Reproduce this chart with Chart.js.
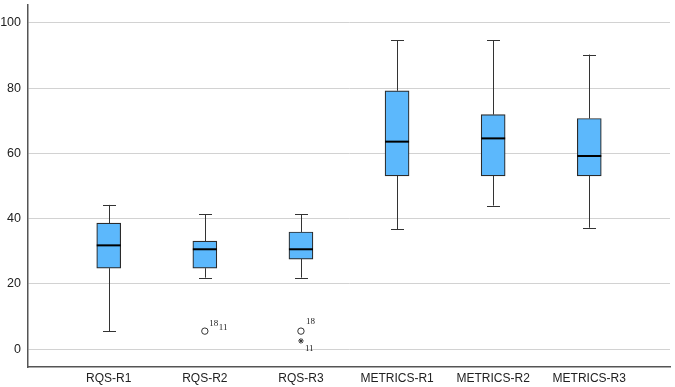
<!DOCTYPE html>
<html>
<head>
<meta charset="utf-8">
<script src="https://cdn.jsdelivr.net/npm/chart.js@4.4.1/dist/chart.umd.min.js"></script>
<style>
  html, body { margin: 0; padding: 0; background: #fff; }
  canvas { display: block; }
</style>
</head>
<body>
<canvas id="boxChart" width="675" height="387"></canvas>
<script>
// box plot values
const categories = ['RQS-R1', 'RQS-R2', 'RQS-R3', 'METRICS-R1', 'METRICS-R2', 'METRICS-R3'];
const whiskerLow = [5.4, 21.9, 21.9, 36.7, 44.0, 37.2];
const q1 = [24.8, 24.8, 27.6, 53.1, 53.1, 53.1];
const median = [31.8, 30.6, 30.6, 63.6, 64.6, 59.2];
const q3 = [38.6, 33.1, 35.9, 79.2, 71.9, 70.7];
const whiskerHigh = [44.2, 41.4, 41.4, 94.7, 94.7, 90.3];

// outliers (category index, value, marker, case ids)
const outlierCat = [1, 2, 2];
const outlierVal = [5.5, 5.5, 2.5];
const outlierShape = ['circle', 'circle', 'star'];
const outlierIds = [['18', '11'], ['18'], ['11']];

const yTicks = [0, 20, 40, 60, 80, 100];

// where the case-id text sits next to each marker (px)
const idOffsets = [[[4.5, -7.5], [14, -3.8]], [[5, -9]], [[4, 8]]];

const boxPlotExtras = {
  id: 'boxPlotExtras',
  beforeDatasetsDraw(chart) {
    const { ctx, scales: { x, y } } = chart;
    ctx.save();
    ctx.strokeStyle = '#333';
    ctx.lineWidth = 1;
    categories.forEach((c, i) => {
      const px = Math.round(x.getPixelForValue(i)) + 0.5;
      const lo = y.getPixelForValue(whiskerLow[i]);
      const hi = y.getPixelForValue(whiskerHigh[i]);
      ctx.beginPath();
      ctx.moveTo(px, lo);
      ctx.lineTo(px, y.getPixelForValue(q1[i]));
      ctx.moveTo(px, y.getPixelForValue(q3[i]));
      ctx.lineTo(px, hi);
      // caps
      ctx.moveTo(px - 6.5, Math.round(lo) + 0.5);
      ctx.lineTo(px + 6.5, Math.round(lo) + 0.5);
      ctx.moveTo(px - 6.5, Math.round(hi) + 0.5);
      ctx.lineTo(px + 6.5, Math.round(hi) + 0.5);
      ctx.stroke();
    });
    ctx.restore();
  },
  afterDatasetsDraw(chart) {
    const { ctx, scales: { x, y } } = chart;
    const bars = chart.getDatasetMeta(0).data;
    ctx.save();
    ctx.strokeStyle = '#000';
    ctx.lineWidth = 2;
    categories.forEach((c, i) => {
      const w = bars[i].width;
      const py = y.getPixelForValue(median[i]);
      ctx.beginPath();
      ctx.moveTo(bars[i].x - w / 2, py);
      ctx.lineTo(bars[i].x + w / 2, py);
      ctx.stroke();
    });
    // case ids beside outliers
    ctx.fillStyle = '#222';
    ctx.font = '9px "Liberation Serif", serif';
    ctx.textAlign = 'left';
    ctx.textBaseline = 'middle';
    outlierIds.forEach((ids, k) => {
      const px = x.getPixelForValue(outlierCat[k]);
      const py = y.getPixelForValue(outlierVal[k]);
      ids.forEach((id, j) => {
        const off = idOffsets[k][j];
        ctx.fillText(id, px + off[0], py + off[1]);
      });
    });
    ctx.restore();
  }
};

const ctx = document.getElementById('boxChart').getContext('2d');
new Chart(ctx, {
  type: 'bar',
  data: {
    datasets: [{
      label: 'box',
      data: categories.map((c, i) => ({ x: i, y: [q1[i], q3[i]] })),
      backgroundColor: '#5cb8fc',
      borderColor: '#2b2b2b',
      borderWidth: 1.2,
      borderSkipped: false,
      barThickness: 24,
      order: 1
    }, {
      type: 'scatter',
      label: 'outliers',
      data: outlierCat.map((c, k) => ({ x: c, y: outlierVal[k] })),
      pointStyle: outlierShape,
      pointRadius: [3.2, 3.2, 2.8],
      backgroundColor: '#fff',
      borderColor: '#333',
      borderWidth: 1,
      order: 0
    }]
  },
  options: {
    responsive: false,
    animation: false,
    layout: { padding: { top: 2, right: 2, left: 0, bottom: 0 } },
    plugins: {
      legend: { display: false },
      tooltip: { enabled: false }
    },
    scales: {
      x: {
        type: 'linear',
        min: -0.84,
        max: 5.84,
        offset: false,
        afterBuildTicks: s => { s.ticks = categories.map((c, i) => ({ value: i })); },
        afterFit: s => { s.height = 20; s.paddingLeft = 0; s.paddingRight = 0; },
        grid: { display: false, drawTicks: false },
        border: { display: true, color: '#555', width: 1.5 },
        ticks: {
          autoSkip: false,
          maxRotation: 0,
          padding: 4,
          color: '#222',
          font: { family: '"Liberation Sans", Arial, sans-serif', size: 12 },
          callback: v => categories[v]
        }
      },
      y: {
        min: -5.5,
        max: 105.5,
        afterBuildTicks: s => { s.ticks = yTicks.map(v => ({ value: v })); },
        afterFit: s => { s.width = 28; s.paddingTop = 0; s.paddingBottom = 0; },
        grid: { color: '#d2d2d2', lineWidth: 1, drawTicks: false },
        border: { display: true, color: '#555', width: 1.5 },
        ticks: {
          padding: 7,
          color: '#222',
          font: { family: '"Liberation Sans", Arial, sans-serif', size: 12.5 }
        }
      }
    }
  },
  plugins: [boxPlotExtras]
});
</script>
</body>
</html>
